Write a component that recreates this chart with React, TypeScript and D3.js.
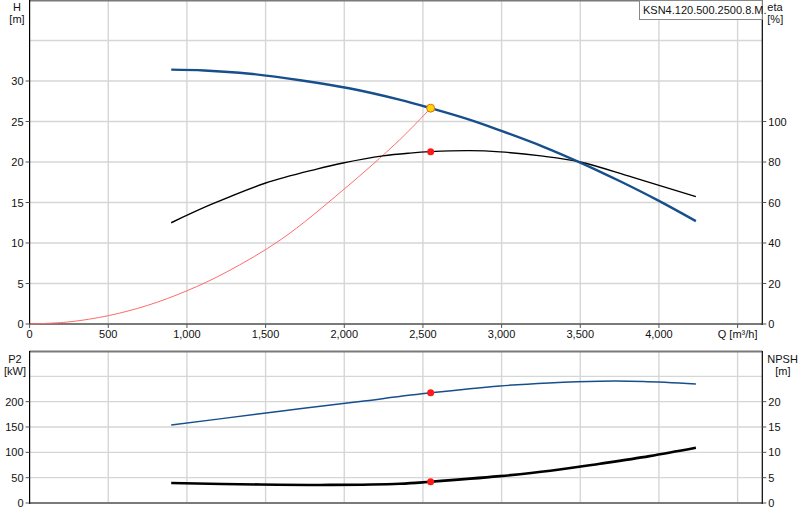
import { useEffect, useRef } from "react";
import * as d3 from "d3";

// Q-H curve
const flowH = [ 900, 1110, 1400, 1720, 2030, 2350, 2549, 2800, 2990, 3270, 3500, 3750, 4000, 4235 ];
const headH = [ 31.4, 31.3, 30.9, 30.1, 29.1, 27.7, 26.65, 25.2, 23.9, 21.85, 19.93, 17.65, 15.2, 12.7 ];

// efficiency curve
const flowEta = [ 900, 1150, 1496, 1825, 1992, 2246, 2418, 2549, 2800, 2990, 3250, 3500, 3830, 4235 ];
const eta = [ 50.0, 58.9, 69.5, 76.5, 79.5, 83.0, 84.4, 85.1, 85.6, 85.0, 83.0, 80.0, 72.5, 62.9 ];

// system curve
const flowSys = [ 0, 250, 500, 750, 1000, 1250, 1600, 1990, 2350, 2549 ];
const headSys = [ 0, 0.26, 1.03, 2.3, 4.1, 6.4, 10.46, 16.5, 22.7, 26.65 ];

// power P2
const flowP2 = [ 900, 1464, 1716, 2100, 2549, 2990, 3300, 3625, 3900, 4235 ];
const powerP2 = [ 154, 176, 186, 200.5, 217.4, 231, 237, 240.5, 240, 235 ];

// NPSH
const flowNpsh = [ 900, 1464, 1909, 2354, 2549, 2990, 3310, 3625, 3940, 4235 ];
const npsh = [ 3.95, 3.65, 3.57, 3.8, 4.2, 5.3, 6.35, 7.75, 9.25, 10.9 ];

// duty point
const dutyQ = 2549;
const dutyH = 26.65;
const dutyEta = 85.1;
const dutyP2 = 217.4;
const dutyNpsh = 4.2;

const xTicks = [ 0, 500, 1000, 1500, 2000, 2500, 3000, 3500, 4000 ];
const hTicks = [ 0, 5, 10, 15, 20, 25, 30 ];
const etaTicks = [ 0, 20, 40, 60, 80, 100 ];
const p2Ticks = [ 0, 50, 100, 150, 200 ];
const npshTicks = [ 0, 5, 10, 15, 20 ];

const pumpName = "KSN4.120.500.2500.8.M.";

const FONT = "'Liberation Sans', Arial, sans-serif";

export default function App ()
{
    const svgRef = useRef<SVGSVGElement>( null );

    useEffect( () =>
    {
        if ( !svgRef.current ) return;
        const svg = d3.select( svgRef.current );
        svg.selectAll( "*" ).remove();

        const L = 29.6, R = 762.3;
        const top1 = 0, bot1 = 324;
        const top2 = 351, bot2 = 503;

        const x = d3.scaleLinear().domain( [ 0, 4657 ] ).range( [ L, R ] );
        const yH = d3.scaleLinear().domain( [ 0, 40 ] ).range( [ bot1, top1 ] );
        const yEta = d3.scaleLinear().domain( [ 0, 160 ] ).range( [ bot1, top1 ] );
        const yP2 = d3.scaleLinear().domain( [ 0, 300 ] ).range( [ bot2, top2 ] );
        const yNpsh = d3.scaleLinear().domain( [ 0, 30 ] ).range( [ bot2, top2 ] );

        const gridColor = "#d6d6d6";
        const gridX = [ ...xTicks.slice( 1 ), 4500 ];

        const txt = ( xx: number, yy: number, s: string, anchor = "middle" ) =>
            svg.append( "text" ).attr( "x", xx ).attr( "y", yy ).text( s )
                .attr( "text-anchor", anchor ).attr( "fill", "#111" )
                .style( "font-size", "11px" ).style( "font-family", FONT );

        // Grid
        const drawGrid = ( yS: d3.ScaleLinear<number, number>, vals: number[], t: number, b: number ) =>
        {
            svg.append( "g" ).selectAll( "line" ).data( vals ).join( "line" )
                .attr( "x1", L ).attr( "x2", R ).attr( "y1", ( d ) => yS( d ) ).attr( "y2", ( d ) => yS( d ) )
                .attr( "stroke", gridColor ).attr( "stroke-width", 1.4 );
            svg.append( "g" ).selectAll( "line" ).data( gridX ).join( "line" )
                .attr( "x1", ( d ) => x( d ) ).attr( "x2", ( d ) => x( d ) ).attr( "y1", t ).attr( "y2", b )
                .attr( "stroke", gridColor ).attr( "stroke-width", 1.4 );
        };
        drawGrid( yH, [ 5, 10, 15, 20, 25, 30, 35 ], top1, bot1 );
        drawGrid( yP2, [ 50, 100, 150, 200, 250 ], top2, bot2 );

        // Frames
        const frame = ( t: number, b: number ) =>
        {
            svg.append( "line" ).attr( "x1", L ).attr( "x2", R ).attr( "y1", t + 0.5 ).attr( "y2", t + 0.5 )
                .attr( "stroke", "#7a7a7a" ).attr( "stroke-width", 2 );
            svg.append( "line" ).attr( "x1", L ).attr( "x2", R ).attr( "y1", b ).attr( "y2", b )
                .attr( "stroke", "#7a7a7a" ).attr( "stroke-width", 2 );
            svg.append( "line" ).attr( "x1", L ).attr( "x2", L ).attr( "y1", t ).attr( "y2", b + 1 )
                .attr( "stroke", "#000" ).attr( "stroke-width", 1.2 );
            svg.append( "line" ).attr( "x1", R ).attr( "x2", R ).attr( "y1", t ).attr( "y2", b + 1 )
                .attr( "stroke", "#000" ).attr( "stroke-width", 1.2 );
        };
        frame( top1, bot1 );
        frame( top2, bot2 );

        // Axes ticks + labels
        const leftAxis = ( yS: d3.ScaleLinear<number, number>, vals: number[] ) =>
        {
            vals.forEach( ( v ) =>
            {
                svg.append( "line" ).attr( "x1", L - 4 ).attr( "x2", L ).attr( "y1", yS( v ) ).attr( "y2", yS( v ) ).attr( "stroke", "#555" );
                txt( L - 6, yS( v ) + 4, d3.format( "," )( v ), "end" );
            } );
        };
        const rightAxis = ( yS: d3.ScaleLinear<number, number>, vals: number[] ) =>
        {
            vals.forEach( ( v ) =>
            {
                svg.append( "line" ).attr( "x1", R ).attr( "x2", R + 4 ).attr( "y1", yS( v ) ).attr( "y2", yS( v ) ).attr( "stroke", "#555" );
                txt( R + 6, yS( v ) + 4, String( v ), "start" );
            } );
        };
        leftAxis( yH, hTicks );
        rightAxis( yEta, etaTicks );
        leftAxis( yP2, p2Ticks );
        rightAxis( yNpsh, npshTicks );

        gridX.concat( [ 0 ] ).forEach( ( v ) =>
        {
            svg.append( "line" ).attr( "x1", x( v ) ).attr( "x2", x( v ) ).attr( "y1", bot1 ).attr( "y2", bot1 + 4 ).attr( "stroke", "#555" );
        } );
        xTicks.forEach( ( v ) => txt( x( v ), bot1 + 14, d3.format( "," )( v ) ) );
        txt( x( 4500 ), bot1 + 14, "Q [m³/h]" );

        // Axis titles
        txt( 17, 11, "H" ); txt( 17, 23, "[m]" );
        txt( R + 5, 11, "eta", "start" ); txt( R + 5, 23, "[%]", "start" );
        txt( 15, top2 + 12, "P2" ); txt( 15, top2 + 24, "[kW]" );
        txt( R + 5, top2 + 12, "NPSH", "start" ); txt( R + 13, top2 + 24, "[m]", "start" );

        // Curves
        const curve = ( qs: number[], vs: number[], yS: d3.ScaleLinear<number, number>, color: string, w: number ) =>
        {
            const line = d3.line<number>().x( ( _, i ) => x( qs[ i ] ) ).y( ( d ) => yS( d ) ).curve( d3.curveCatmullRom.alpha( 0.5 ) );
            svg.append( "path" ).datum( vs ).attr( "d", line ).attr( "fill", "none" )
                .attr( "stroke", color ).attr( "stroke-width", w ).attr( "stroke-linejoin", "round" );
        };
        curve( flowSys, headSys, yH, "#ff6b6b", 1 );
        curve( flowEta, eta, yEta, "#000", 1.4 );
        curve( flowH, headH, yH, "#174f8c", 2.4 );
        curve( flowP2, powerP2, yP2, "#174f8c", 1.5 );
        curve( flowNpsh, npsh, yNpsh, "#000", 2.6 );

        // Duty points
        svg.append( "circle" ).attr( "cx", x( dutyQ ) ).attr( "cy", yEta( dutyEta ) ).attr( "r", 3.5 ).attr( "fill", "#ff1a1a" );
        svg.append( "circle" ).attr( "cx", x( dutyQ ) ).attr( "cy", yP2( dutyP2 ) ).attr( "r", 3.5 ).attr( "fill", "#ff1a1a" );
        svg.append( "circle" ).attr( "cx", x( dutyQ ) ).attr( "cy", yNpsh( dutyNpsh ) ).attr( "r", 3.5 ).attr( "fill", "#ff1a1a" );
        svg.append( "circle" ).attr( "cx", x( dutyQ ) ).attr( "cy", yH( dutyH ) ).attr( "r", 4 )
            .attr( "fill", "#ffd400" ).attr( "stroke", "#e07020" ).attr( "stroke-width", 1 );

        // Pump name box
        svg.append( "rect" ).attr( "x", 639.5 ).attr( "y", 0.5 ).attr( "width", R - 639.5 ).attr( "height", 19 )
            .attr( "fill", "#fff" ).attr( "stroke", "#888" ).attr( "stroke-width", 1 );
        txt( 643, 14, pumpName, "start" );
    }, [] );

    return (
        <div style={ { position: "fixed", left: 0, top: 0, width: 800, height: 520, background: "#fff" } }>
            <svg ref={ svgRef } width={ 800 } height={ 520 } />
        </div>
    );
}
